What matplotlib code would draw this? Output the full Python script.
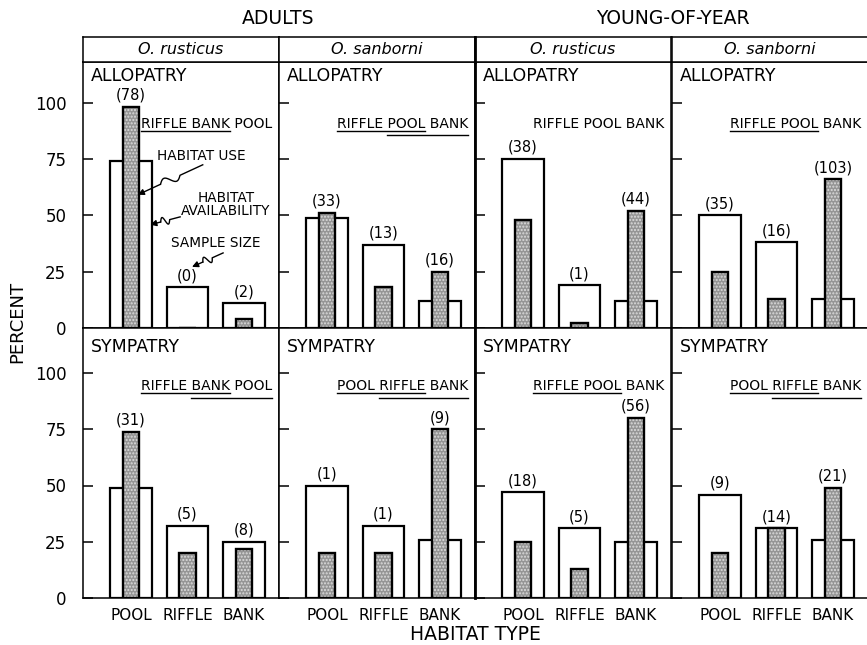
import matplotlib.pyplot as plt
import numpy as np

# --- Data (percent), panels left to right ---
habitats = ["POOL", "RIFFLE", "BANK"]
species = ["O. rusticus", "O. sanborni", "O. rusticus", "O. sanborni"]
groups = ["ADULTS", "YOUNG-OF-YEAR"]

# allopatry (top row)
allo_use = [[98, 0, 4], [51, 18, 25], [48, 2, 52], [25, 13, 66]]
allo_avail = [[74, 18, 11], [49, 37, 12], [75, 19, 12], [50, 38, 13]]
allo_n = [[78, 0, 2], [33, 13, 16], [38, 1, 44], [35, 16, 103]]
allo_rank = ["RIFFLE BANK POOL", "RIFFLE POOL BANK", "RIFFLE POOL BANK", "RIFFLE POOL BANK"]
allo_groups = [[(0, 1)], [(0, 1), (1, 2)], [], [(0, 1)]]

# sympatry (bottom row)
symp_use = [[74, 20, 22], [20, 20, 75], [25, 13, 80], [20, 31, 49]]
symp_avail = [[49, 32, 25], [50, 32, 26], [47, 31, 25], [46, 31, 26]]
symp_n = [[31, 5, 8], [1, 1, 9], [18, 5, 56], [9, 14, 21]]
symp_rank = ["RIFFLE BANK POOL", "POOL RIFFLE BANK", "RIFFLE POOL BANK", "POOL RIFFLE BANK"]
symp_groups = [[(0, 1), (1, 2)], [(0, 1), (1, 2)], [(0, 1)], [(0, 1), (1, 2)]]

W, H = 867, 645
fig = plt.figure(figsize=(W / 100, H / 100), dpi=100)


def fx(px):
    return px / W


def fy(py):
    return 1 - py / H


col_x = [83, 279, 475, 672]
col_w = 196
# top px, bottom px, ymax, row name, then the row's data
rows = [
    (62, 328, 118, "ALLOPATRY", allo_use, allo_avail, allo_n, allo_rank, allo_groups),
    (328, 598, 120, "SYMPATRY", symp_use, symp_avail, symp_n, symp_rank, symp_groups),
]

x = np.arange(3)
rank_texts = []
axes = []

for r, (top, bot, ymax, name, use, avail, ns, rank, grp) in enumerate(rows):
    for c in range(4):
        ax = fig.add_axes([fx(col_x[c]), fy(bot), col_w / W, (bot - top) / H])
        axes.append(ax)
        ax.set_xlim(-0.85, 2.62)
        ax.set_ylim(0, ymax)

        # --- habitat availability (open bars) ---
        ax.bar(x, avail[c], width=0.73, color="white", edgecolor="black",
               linewidth=1.6, zorder=2)
        # --- habitat use (stippled bars) ---
        ax.bar(x, use[c], width=0.3, color="#959595", edgecolor="#dcdcdc",
               hatch=".....", linewidth=0, zorder=3)
        ax.bar(x, use[c], width=0.3, fill=False, edgecolor="black",
               linewidth=1.7, zorder=4)

        # --- sample sizes ---
        for i in range(3):
            top_val = max(use[c][i], avail[c][i])
            ax.annotate(f"({ns[c][i]})", (x[i], top_val), xytext=(0, 3),
                        textcoords="offset points", ha="center", va="bottom",
                        fontsize=10.5)

        ax.text(0.04, 0.929 if r == 0 else 0.911, name, transform=ax.transAxes,
                ha="left", va="baseline", fontsize=12.5)
        t = ax.text(0.965, 0.752 if r == 0 else 0.770, rank[c],
                    transform=ax.transAxes, ha="right", va="baseline",
                    fontsize=10)
        rank_texts.append((ax, t, grp[c]))

        ax.set_yticks([0, 25, 50, 75, 100])
        ax.tick_params(axis="y", direction="in", length=7, width=1.1, pad=12,
                       labelsize=12, labelleft=(c == 0))
        if r == 1:
            ax.set_xticks(x, habitats)
            ax.tick_params(axis="x", length=0, pad=7, labelsize=11)
        else:
            ax.set_xticks([])
        for s in ax.spines.values():
            s.set_linewidth(1.1)
        if c == 2:
            ax.spines["left"].set_linewidth(2)

# --- species header boxes ---
for c in range(4):
    hax = fig.add_axes([fx(col_x[c]), fy(62), col_w / W, 25 / H])
    hax.set_xticks([])
    hax.set_yticks([])
    for s in hax.spines.values():
        s.set_linewidth(1.1)
    if c == 2:
        hax.spines["left"].set_linewidth(2)
    hax.text(0.5, 0.48, species[c], ha="center", va="center",
             fontsize=11.5, style="italic", transform=hax.transAxes)

fig.text(fx(278), fy(19), groups[0], ha="center", va="center", fontsize=13.5)
fig.text(fx(673), fy(19), groups[1], ha="center", va="center", fontsize=13.5)
fig.text(fx(17), fy(322), "PERCENT", rotation=90, ha="center", va="center",
         fontsize=13)
fig.text(fx(475), fy(634), "HABITAT TYPE", ha="center", va="center",
         fontsize=13.5)

# --- key in first panel ---
ax0 = axes[0]
ax0.text(1.24, 74.7, "HABITAT USE", ha="center", va="baseline", fontsize=9.8)
ax0.text(1.68, 56, "HABITAT", ha="center", va="baseline", fontsize=9.8)
ax0.text(1.68, 50.2, "AVAILABILITY", ha="center", va="baseline", fontsize=9.8)
ax0.text(1.50, 36, "SAMPLE SIZE", ha="center", va="baseline", fontsize=9.8)


def squiggle_arrow(ax, tail, head):
    p0 = ax.transData.transform(tail)
    p1 = ax.transData.transform(head)
    d = p1 - p0
    L = np.hypot(*d)
    u = d / L
    n = np.array([-u[1], u[0]])
    t = np.linspace(0.35, 0.65, 30)
    wave = 4 * np.sin(2 * np.pi * (t - 0.35) / 0.3)
    pts = [p0] + [p0 + L * ti * u + wi * n for ti, wi in zip(t, wave)]
    pts = np.array(pts)
    inv = ax.transData.inverted()
    dp = inv.transform(pts)
    ax.plot(dp[:, 0], dp[:, 1], color="black", lw=1, clip_on=False, zorder=5)
    ax.annotate("", xy=head, xytext=tuple(dp[-1]),
                arrowprops=dict(arrowstyle="-|>", color="black", lw=1,
                                shrinkA=0, shrinkB=0, mutation_scale=9),
                zorder=5)


squiggle_arrow(ax0, (1.27, 72.4), (0.12, 59.1))
squiggle_arrow(ax0, (0.87, 49.3), (0.34, 45.8))
squiggle_arrow(ax0, (1.63, 33.3), (1.08, 27.1))

# --- underline groups in ranking text ---
fig.canvas.draw()
renderer = fig.canvas.get_renderer()
for ax, t, grp in rank_texts:
    words = t.get_text().split(" ")
    fp = t.get_fontproperties()
    bb = t.get_window_extent(renderer)

    def width(s):
        return renderer.get_text_width_height_descent(s, fp, ismath=False)[0]

    ends = [bb.x0 + width(" ".join(words[:k + 1])) for k in range(3)]
    starts = [ends[k] - width(words[k]) for k in range(3)]
    base = ax.transAxes.transform(t.get_position())[1]
    inv = ax.transAxes.inverted()
    for j, (a, b) in enumerate(grp):
        yy = base - 3 - 4.5 * j
        p = inv.transform([[starts[a], yy], [ends[b], yy]])
        ax.plot(p[:, 0], p[:, 1], color="black", lw=1.0,
                transform=ax.transAxes, clip_on=False)

plt.savefig("out.png", dpi=100)
